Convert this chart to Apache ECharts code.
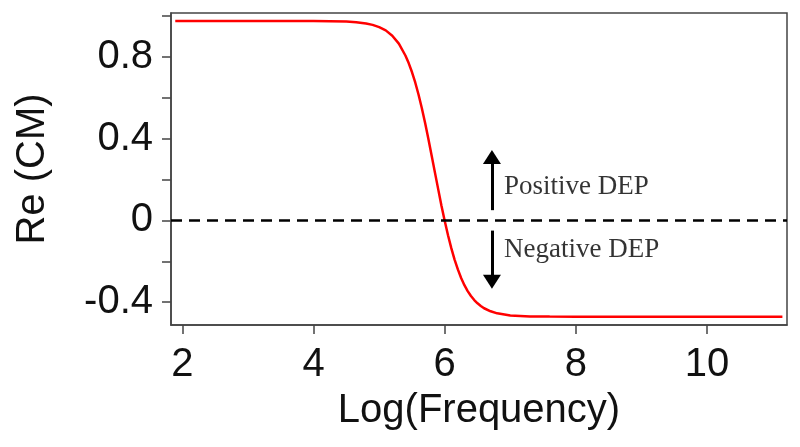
<!DOCTYPE html>
<html>
<head>
<meta charset="utf-8">
<script src="https://cdn.jsdelivr.net/npm/echarts@6/dist/echarts.min.js"></script>
<style>
  html, body { margin: 0; padding: 0; background: #fff; }
  #chart { width: 800px; height: 447px; }
</style>
</head>
<body>
<div id="chart"></div>
<script>
// curve: x = Log(Frequency), y = Re(CM)
const logFreq = [1.89, 2.5, 3, 3.5, 4, 4.5, 4.65, 4.8, 4.9, 5.0, 5.1, 5.2, 5.3, 5.4, 5.45, 5.5, 5.55, 5.6, 5.65,
  5.7, 5.75, 5.8, 5.85, 5.9, 5.95, 6.0, 6.05, 6.1, 6.15, 6.2, 6.25, 6.3, 6.35, 6.4, 6.45, 6.5, 6.55, 6.6,
  6.7, 6.8, 7.0, 7.3, 7.6, 8, 9, 10, 11.15];
const reCM = [0.976, 0.976, 0.976, 0.976, 0.976, 0.973, 0.970, 0.964, 0.957, 0.946, 0.930, 0.904, 0.865, 0.807, 0.770, 0.726, 0.675, 0.616, 0.550,
  0.478, 0.400, 0.318, 0.235, 0.153, 0.072, -0.003, -0.073, -0.136, -0.192, -0.240, -0.282, -0.317, -0.346, -0.370, -0.390, -0.406, -0.419, -0.430,
  -0.445, -0.455, -0.465, -0.470, -0.471, -0.472, -0.472, -0.472, -0.472];

const xTicks = [2, 4, 6, 8, 10];
const yLabels = [0.8, 0.4, 0, -0.4];
const yTicks = [1.0, 0.8, 0.6, 0.4, 0.2, 0, -0.2, -0.4];

// arrows and annotations
const arrowX = 6.72;
const upArrow = [0.05, 0.31];
const downArrow = [-0.05, -0.30];
const notes = ['Positive DEP', 'Negative DEP'];
const noteY = [0.166, -0.143];

const chart = echarts.init(document.getElementById('chart'));

const axisFont = { fontFamily: 'Liberation Sans, Arial, sans-serif', fontSize: 40, color: '#111' };

chart.setOption({
  animation: false,
  grid: {
    left: 171, right: 13, top: 13, bottom: 122,
    show: true, borderColor: '#444', borderWidth: 1.5,
  },
  xAxis: {
    type: 'value',
    min: 1.825,
    max: 11.22,
    name: 'Log(Frequency)',
    nameLocation: 'middle',
    nameGap: 66,
    nameTextStyle: axisFont,
    axisLine: { show: true, onZero: false, lineStyle: { color: '#444', width: 1.5 } },
    axisTick: { show: true, length: 9, customValues: xTicks, lineStyle: { color: '#444', width: 1.5 } },
    axisLabel: { margin: 20, customValues: xTicks, ...axisFont },
    splitLine: { show: false },
  },
  yAxis: {
    type: 'value',
    min: -0.512,
    max: 1.015,
    name: 'Re (CM)',
    nameLocation: 'middle',
    nameGap: 118,
    nameTextStyle: axisFont,
    axisLine: { show: true, onZero: false, lineStyle: { color: '#444', width: 1.5 } },
    axisTick: { show: true, length: 9, customValues: yTicks, lineStyle: { color: '#444', width: 1.5 } },
    axisLabel: {
      margin: 18,
      customValues: yLabels,
      formatter: (v) => String(Math.round(v * 10) / 10),
      ...axisFont,
    },
    splitLine: { show: false },
  },
  series: [
    {
      name: 'Re(CM)',
      type: 'line',
      data: logFreq.map((x, i) => [x, reCM[i]]),
      showSymbol: false,
      smooth: false,
      lineStyle: { color: '#ff0000', width: 2.5 },
      z: 3,
      markLine: {
        silent: true,
        symbol: 'none',
        label: { show: false },
        lineStyle: { color: '#000', width: 2.5, type: [11, 7] },
        data: [{ yAxis: 0 }],
      },
    },
    {
      name: 'arrows',
      type: 'line',
      data: [],
      markLine: {
        silent: true,
        symbol: ['none', 'triangle'],
        symbolSize: [18, 14],
        label: { show: false },
        lineStyle: { color: '#000', width: 3, type: 'solid' },
        data: [
          [{ coord: [arrowX, upArrow[0]] }, { coord: [arrowX, upArrow[1]] }],
          [{ coord: [arrowX, downArrow[0]] }, { coord: [arrowX, downArrow[1]] }],
        ],
      },
    },
    {
      name: 'notes',
      type: 'scatter',
      symbolSize: 0,
      data: notes.map((t, i) => ({ value: [arrowX, noteY[i]], name: t })),
      label: {
        show: true,
        position: 'right',
        distance: 12,
        formatter: (p) => p.name,
        fontFamily: 'Liberation Serif, Times New Roman, serif',
        fontSize: 27,
        color: '#000',
      },
    },
  ],
});
</script>
</body>
</html>
